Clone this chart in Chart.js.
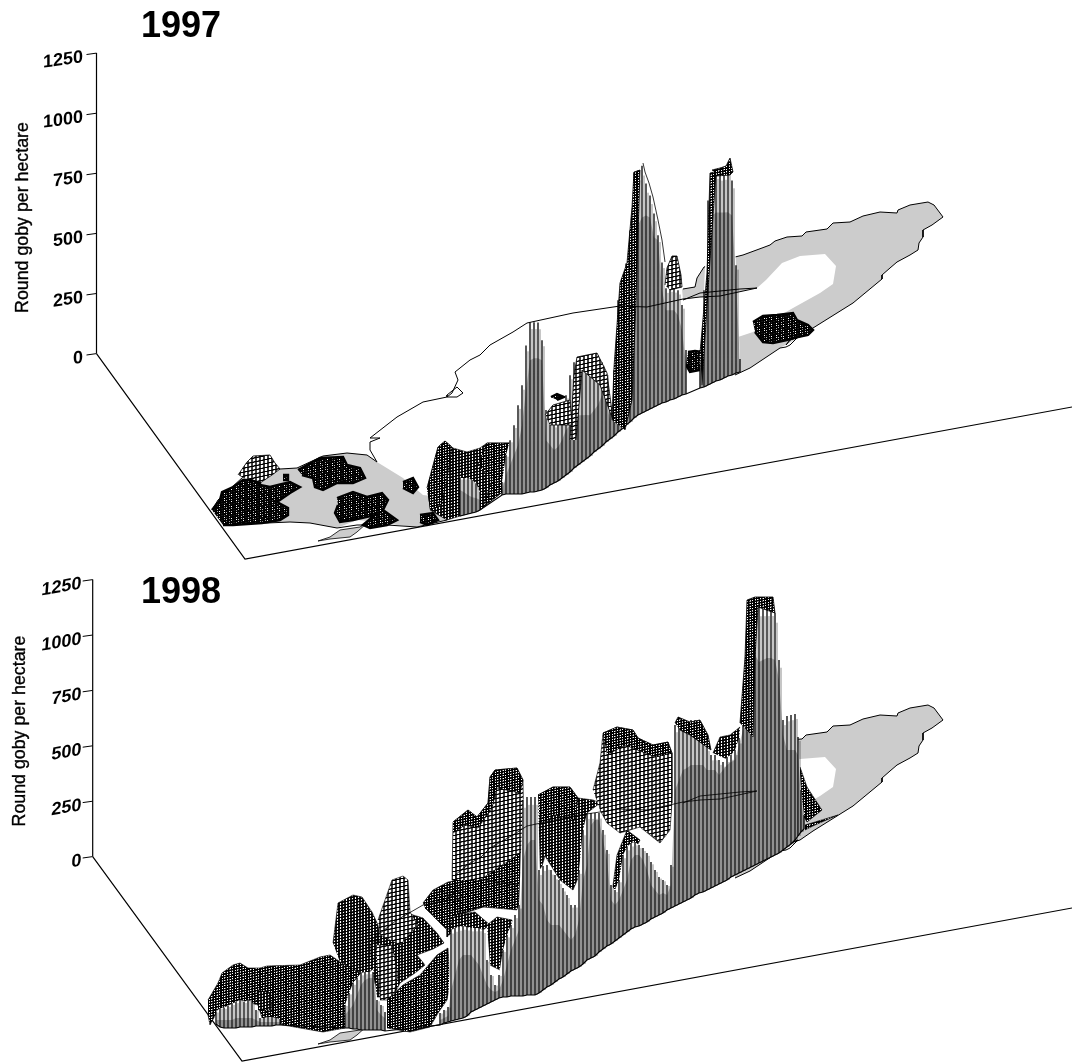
<!DOCTYPE html>
<html>
<head>
<meta charset="utf-8">
<style>
html, body { margin: 0; padding: 0; background: #fff; }
canvas { display: block; }
</style>
<script src="https://cdn.jsdelivr.net/npm/chart.js@4"></script>
</head>
<body>
<canvas id="gobyChart" width="1072" height="1062"></canvas>
<script>
// tick labels on the vertical axes
const tickValues = [0, 250, 500, 750, 1000, 1250];
const yearLabels = ['1997', '1998'];
const axisTitle = 'Round goby per hectare';

// floor coordinates are east,north pairs, the lake is the same for both years
const lakeEast = [683,55, 682,66, 695,68, 697,77, 704,88, 735,98, 743,100, 762,107, 770,110, 775,114, 787,118, 802,119, 806,123, 827,126, 833,132, 850,133, 863,139, 880,143, 897,142, 898,145, 910,150, 928,153, 934,150, 943,138, 932,130, 923,125, 923,118, 919,112, 918,105, 910,100, 897,93, 890,87, 882,80, 882,76, 853,52, 813,27, 800,18, 780,7, 750,-13, 735,-20, 735,17, 753,23, 760,28, 793,47, 820,62, 833,71, 836,89, 825,101, 800,99, 782,92, 766,75, 757,67, 720,59, 700,58];
const lakeWest = [212,-155, 218,-145, 243,-122, 280,-114, 297,-113, 323,-101, 347,-98, 367,-100, 377,-107, 403,-123, 423,-140, 440,-142, 447,-165, 417,-172, 397,-170, 387,-168, 357,-165, 337,-173, 310,-168, 290,-167, 267,-168, 223,-168];
const island = [318,-186, 330,-182, 340,-175, 360,-172, 367,-168, 357,-177, 350,-182, 330,-184, 318,-186];
const northShore = [377,-107, 370,-95, 370,-87, 380,-83, 370,-83, 397,-62, 423,-47, 447,-42, 457,-42, 463,-38, 457,-32, 447,-40, 447,-42, 452,-38, 458,-25, 455,-17, 470,-5, 480,0, 490,10, 513,23, 527,32, 573,42, 620,49, 647,48, 683,56, 700,58, 720,59, 757,67, 740,66, 700,62, 683,55];
const eastShore = [683,66, 695,68, 697,77, 704,88, 735,98, 743,100, 762,107, 770,110, 775,114, 787,118, 802,119, 806,123, 827,126, 833,132, 850,133, 863,139, 880,143, 897,142, 898,145, 910,150, 928,153, 934,150, 943,138, 932,130, 923,125, 923,118, 919,112, 918,105, 910,100, 897,93, 890,87, 882,80, 882,76, 853,52, 813,27, 800,18, 790,15, 786,10, 790,15, 798,18, 790,10, 786,8, 780,7, 750,-13, 735,-20];
const westShore = [212,-155, 218,-145, 243,-122, 280,-114, 297,-113, 323,-101, 347,-98, 367,-100, 377,-107];
const southShore = [223,-168, 267,-168, 290,-167, 310,-168, 337,-173, 357,-170, 387,-170, 417,-172, 447,-165];

// 1997 patches of low density surface
const blobs97 = [
  [212,-155, 220,-145, 222,-137, 233,-132, 243,-125, 250,-125, 260,-128, 260,-130, 270,-132, 290,-127, 300,-132, 290,-138, 277,-147, 288,-153, 288,-160, 280,-165, 262,-168, 233,-170, 223,-170],
  [298,-115, 320,-103, 343,-102, 347,-110, 360,-113, 365,-123, 353,-128, 337,-128, 323,-135, 315,-132, 313,-123, 302,-120],
  [337,-143, 353,-137, 367,-142, 382,-138, 388,-145, 383,-155, 397,-165, 387,-170, 370,-173, 363,-170, 375,-160, 353,-165, 340,-167, 335,-158, 338,-150],
  [403,-127, 413,-123, 418,-132, 413,-138, 403,-133],
  [420,-160, 433,-158, 438,-165, 427,-170, 420,-167],
  [283,-120, 288,-120, 288,-125, 283,-125],
  [753,33, 763,39, 777,40, 793,42, 797,35, 808,30, 813,25, 808,20, 793,17, 787,15, 773,12, 763,13, 755,23],
  [688,3, 695,4, 703,3, 700,-15, 690,-17, 686,-10],
  [551,-42, 557,-39, 564,-42, 557,-45]
];
const backHump97 = [238,-120, 247,-107, 253,-101, 270,-100, 275,-108, 280,-114, 272,-120, 260,-128, 250,-126];
const ridges97 = [
  [427,-133, 438,-92, 445,-86, 453,-93, 467,-97, 480,-93, 487,-88, 500,-88, 512,-88, 505,-135, 480,-155, 447,-165, 430,-155]
];
const ridgesDark97 = [
  [427,-133, 438,-92, 445,-86, 452,-92, 447,-125, 441,-150, 430,-155],
  [478,-110, 487,-88, 512,-88, 505,-135, 483,-152, 492,-125]
];
// parts of the surface that hide the needles
const frontDark97 = [
  [612,-65, 614,-12, 620,72, 627,92, 632,148, 634,183, 640,185, 636,55, 632,-45, 625,-75],
  [700,2, 707,82, 710,182, 716,183, 708,65, 702,-30],
  [712,185, 720,187, 726,189, 730,197, 733,183, 730,180, 716,179]
];
const frontOpen97 = [
  [665,70, 667,87, 672,99, 677,99, 681,80, 682,68, 670,65],
  [570,-85, 574,-20, 577,-2, 597,2, 607,-18, 613,-65, 600,-30, 582,-15, 576,-85],
  [545,-60, 553,-50, 570,-45, 572,-70, 550,-70]
];
const crest97 = [643,192, 645,183, 649,172, 653,158, 658,135, 662,115, 665,93];

const spikeEast97 = [460,464,468,472,476,480,502,506,510,514,518,522,526,530,534,538,542,546,550,554,558,562,566,570,574,578,582,586,590,594,598,602,606,610,614,618,622,626,630,634,638,642,646,650,654,658,662,666,670,674,678,682,686,700,704,708,712,716,720,724,728,732,736,740];
const spikeBase97 = [-161,-160,-159,-158,-157,-155,-140,-139,-139,-139,-139,-139,-138,-137,-137,-136,-135,-133,-130,-128,-126,-123,-120,-117,-113,-110,-107,-104,-101,-97,-94,-91,-87,-84,-81,-77,-74,-70,-67,-63,-60,-58,-56,-54,-52,-50,-48,-47,-45,-44,-42,-40,-39,-33,-32,-30,-28,-26,-25,-23,-21,-20,-18,-17];
const density97 = [158,154,149,137,120,75,54,162,224,286,369,452,614,706,706,701,623,324,270,241,253,282,332,402,440,444,432,411,403,402,390,348,290,141,274,548,627,672,797,1021,1017,1029,946,888,805,706,585,473,469,461,444,374,183,158,402,768,876,876,864,859,876,809,448,54];
const shade97 = [108,95,79,66,58,42,21,79,120,162,203,286,427,548,556,552,540,199,166,137,141,158,187,195,199,207,195,183,170,174,183,212,174,79,212,340,411,519,631,739,789,813,813,797,706,685,469,382,373,369,340,270,120,95,237,602,697,701,697,689,681,664,386,29];

// 1998 surface, listed from the far side to the near side
const darkMesh98 = [
  [208,-142, 218,-125, 222,-115, 233,-107, 240,-105, 248,-110, 260,-110, 267,-108, 300,-107, 320,-99, 330,-97, 345,-107, 380,-117, 345,-170, 323,-174, 283,-167, 262,-160, 258,-147, 240,-142, 218,-152, 210,-167, 208,-157],
  [423,-45, 433,-32, 448,-24, 520,-14, 520,-47, 490,-47, 483,-49, 445,-62, 425,-50],
  [453,-22, 487,-22, 518,-32, 518,-52, 483,-49, 450,-57, 433,-42],
  [480,1, 520,8, 520,-27, 487,-22],
  [425,-50, 447,-72, 447,-79, 457,-70, 460,-42, 440,-32]
];
const midMesh98 = [
  [258,-132, 270,-135, 272,-152, 258,-152],
  [333,-85, 338,-45, 353,-37, 362,-39, 372,-54, 378,-67, 385,-102, 365,-117, 340,-104],
  [370,-87, 390,-70, 410,-56, 423,-60, 437,-75, 444,-85, 433,-91, 417,-97, 425,-107, 415,-115, 400,-125, 393,-139, 377,-139]
];
const openMesh98 = [
  [378,-62, 392,-22, 403,-18, 408,-22, 410,-54, 418,-67, 400,-87, 380,-77],
  [376,-87, 392,-87, 398,-117, 393,-142, 380,-142]
];
const frontLow98 = [387,-142, 403,-127, 420,-117, 437,-97, 448,-90, 450,-127, 447,-142, 438,-155, 430,-169, 410,-174, 387,-170];
const midMeshRear98 = [
  [448,-72, 455,-57, 475,-54, 490,-67, 480,-74, 452,-74],
  [487,-67, 497,-59, 512,-62, 514,-77, 500,-112, 490,-107],
  [538,63, 553,71, 570,71, 578,60, 593,58, 600,55, 587,45, 587,1, 573,-32, 560,-22, 545,2, 540,-15],
  [713,105, 720,121, 730,123, 740,131, 752,115, 755,105, 735,95]
];
const openMeshRear98 = [
  [452,-22, 453,36, 468,48, 477,41, 488,55, 490,81, 495,88, 517,90, 523,78, 524,8, 510,-2, 480,-22],
  [593,68, 600,95, 603,125, 617,131, 633,128, 638,120, 653,113, 668,116, 672,105, 672,55, 670,28, 660,15, 640,31, 620,25, 607,35, 600,48]
];
const darkCaps98 = [
  [453,36, 468,48, 477,41, 488,55, 490,81, 495,88, 517,90, 523,78, 520,65, 497,70, 492,50, 478,30, 465,33, 453,25],
  [538,63, 553,71, 570,71, 578,60, 575,38, 555,43, 540,33],
  [603,125, 617,131, 633,128, 638,120, 653,113, 668,116, 672,105, 655,101, 625,113, 607,103],
  [612,-35, 617,3, 627,28, 640,18, 630,-2, 620,-27],
  [800,91, 807,71, 822,48, 807,36, 800,48],
  [805,33, 838,43, 815,33, 805,28]
];
const frontDark98 = [
  [740,135, 745,201, 747,258, 755,261, 773,261, 775,245, 758,251, 755,201, 753,121],
  [675,135, 678,141, 690,136, 700,138, 708,123, 711,108, 690,123, 680,128]
];

const spikeEast98 = [216,220,224,228,232,236,240,244,248,252,256,260,264,268,272,276,280,345,349,353,357,361,365,369,373,377,381,385,440,444,448,451,455,459,463,467,471,475,479,483,487,491,495,499,503,507,511,515,519,523,527,531,535,539,543,547,551,555,559,563,567,571,575,579,583,587,591,595,599,603,607,611,615,619,623,627,631,635,639,643,647,651,655,659,663,667,671,675,679,683,687,691,695,699,703,707,711,715,719,723,727,731,735,739,743,747,751,755,759,763,767,771,775,779,783,787,791,795,798,801,804];
const spikeBase98 = [-166,-169,-170,-170,-170,-170,-169,-169,-169,-169,-168,-168,-168,-168,-168,-167,-167,-170,-170,-171,-171,-172,-172,-172,-172,-172,-172,-173,-167,-165,-164,-163,-162,-161,-160,-158,-154,-152,-150,-148,-146,-144,-142,-140,-139,-139,-138,-138,-138,-138,-137,-137,-137,-135,-132,-129,-127,-124,-121,-119,-116,-113,-111,-109,-106,-102,-100,-98,-94,-91,-88,-86,-83,-80,-77,-74,-71,-69,-68,-66,-64,-61,-59,-57,-55,-52,-50,-48,-46,-44,-42,-40,-37,-35,-34,-32,-30,-28,-26,-24,-22,-19,-17,-15,-13,-11,-9,-7,-5,-3,-1,1,3,5,8,11,14,18,22,26,29];
const density98 = [54,86,90,99,108,117,122,113,122,113,72,36,36,41,41,32,27,104,158,208,230,257,262,262,262,135,113,86,54,59,68,411,415,415,415,402,379,370,361,343,199,122,68,104,212,280,320,366,411,885,894,894,894,555,560,551,519,483,447,402,357,298,289,438,605,663,654,645,627,537,433,266,230,262,361,384,388,384,366,343,311,257,212,171,149,113,194,817,844,812,803,803,790,772,731,654,600,591,560,542,555,551,564,609,772,1033,1205,1209,1160,1151,1142,1133,1092,871,587,591,582,569,447,190,63];
const shade98 = [18,32,36,36,36,45,41,41,41,41,27,18,18,18,18,14,14,59,81,108,153,203,226,235,235,90,68,59,23,23,27,140,203,266,284,275,257,226,194,140,86,54,36,36,77,144,208,253,298,614,677,700,700,420,384,302,271,257,244,212,176,140,153,212,379,429,600,614,596,492,388,199,162,171,203,235,311,325,320,289,235,153,122,90,90,68,104,523,560,596,596,600,587,578,573,542,533,523,492,505,519,519,519,578,636,808,934,948,907,907,907,898,880,781,519,438,424,406,366,144,41];

// vertical axes and the two floor edges of each year
const floor97East = [96.5, 245, 1072];
const floor97North = [1.4, -204, -52];
const floor98East = [92.7, 242, 1072];
const floor98North = [1.4, -203, -50];

// hectare units per floor unit, these follow the axis spacing of each year
const unit97 = 4.16;
const unit98 = 4.513;
// the floor zero sits a little under the axis zero
const floorLift = 1.4;

const tmpCtx = document.createElement('canvas').getContext('2d');

function meshPattern(cell, lineW, skew) {
    const tile = document.createElement('canvas');
    tile.width = 16;
    tile.height = 16;
    const g = tile.getContext('2d');
    g.fillStyle = '#fff';
    g.fillRect(0, 0, 16, 16);
    g.strokeStyle = '#000';
    g.lineWidth = lineW;
    g.strokeRect(0, 0, 16, 16);
    const p = tmpCtx.createPattern(tile, 'repeat');
    p.setTransform(new DOMMatrix().scale(cell / 16).skewY(skew));
    return p;
}

const patBlob = meshPattern(2.4, 11, -12);
const patDark = meshPattern(2.6, 9, -12);
const patMid = meshPattern(3, 7, -12);
const patOpen = meshPattern(4, 5, -12);

function toPoints(pairs, unit) {
    const pts = [];
    for (let i = 0; i < pairs.length; i += 2) {
        pts.push({ x: pairs[i], y: (pairs[i + 1] - floorLift) * unit });
    }
    return pts;
}

function lineSet(pts, axis, width) {
    return {
        type: 'scatter', showLine: true, yAxisID: axis, data: pts,
        borderColor: '#000', borderWidth: width, pointRadius: 0, tension: 0
    };
}

function polySet(pairs, axis, unit, fillWith, edge) {
    const ds = lineSet(toPoints(pairs, unit), axis, edge);
    ds.polyFill = fillWith;
    return ds;
}

// white backing and grey lower part behind the needles, one polygon per unbroken run
function spikeSets(east, base, dens, shade, axis, unit) {
    const sets = [];
    const level = i => (base[i] - floorLift) * unit;
    let start = 0;
    for (let i = 1; i <= east.length; i++) {
        if (i === east.length || east[i] - east[i - 1] > 8) {
            const top = [], low = [], bottom = [];
            for (let j = start; j < i; j++) {
                top.push({ x: east[j], y: level(j) + dens[j] });
                low.push({ x: east[j], y: level(j) + shade[j] });
                bottom.unshift({ x: east[j], y: level(j) });
            }
            const white = lineSet(top.concat(bottom), axis, 0);
            white.polyFill = '#fff';
            const grey = lineSet(low.concat(bottom), axis, 0);
            grey.polyFill = '#bdbdbd';
            sets.push(white, grey);
            start = i;
        }
    }
    // second row of the grid showing between the front needles
    const backRow = [];
    east.forEach((e, i) => {
        if (i === east.length - 1 || east[i + 1] - e > 8) return;
        backRow.push({ x: e + 2, y: level(i) });
        backRow.push({ x: e + 2, y: level(i) + dens[i] * 0.96 });
        backRow.push({ x: e + 2, y: null });
    });
    const back = lineSet(backRow, axis, 1);
    back.borderColor = 'rgba(0,0,0,0.45)';
    sets.push(back);

    const needles = [];
    east.forEach((e, i) => {
        needles.push({ x: e, y: level(i) });
        needles.push({ x: e, y: level(i) + dens[i] });
        needles.push({ x: e, y: null });
    });
    sets.push(lineSet(needles, axis, 1.3));
    sets.push(lineSet(east.map((e, i) => ({ x: e, y: level(i) })), axis, 1.2));
    return sets;
}

function axisSets(axis, unit, floorEast, floorNorth) {
    const sets = [];
    sets.push(lineSet([{ x: floorEast[0], y: 1250 }, { x: floorEast[0], y: 0 }], axis, 1.2));
    sets.push(lineSet(floorEast.map((e, i) => ({ x: e, y: (floorNorth[i] - floorLift) * unit })), axis, 1.2));
    tickValues.forEach(v => {
        sets.push(lineSet([{ x: floorEast[0], y: v }, { x: floorEast[0] - 10, y: v - 1.4 * unit }], axis, 1));
    });
    return sets;
}

function yearSets(unit, axis, isFirst) {
    const sets = [];
    sets.push(polySet(lakeEast, axis, unit, '#cccccc', 0));
    if (isFirst) sets.push(polySet(lakeWest, axis, unit, '#cccccc', 0));
    sets.push(polySet(island, axis, unit, '#cccccc', 0.8));
    sets.push(lineSet(toPoints(eastShore, unit), axis, 1));
    if (isFirst) {
        sets.push(lineSet(toPoints(westShore, unit), axis, 1));
        sets.push(lineSet(toPoints(southShore, unit), axis, 1));
    }
    return sets;
}

let datasets = [];
datasets = datasets.concat(axisSets('y97', unit97, floor97East, floor97North));
datasets = datasets.concat(axisSets('y98', unit98, floor98East, floor98North));

datasets = datasets.concat(yearSets(unit97, 'y97', true));
ridges97.forEach(p => datasets.push(polySet(p, 'y97', unit97, patMid, 0.6)));
ridgesDark97.forEach(p => datasets.push(polySet(p, 'y97', unit97, patDark, 0.6)));
datasets.push(polySet(backHump97, 'y97', unit97, patOpen, 0.8));
blobs97.forEach(p => datasets.push(polySet(p, 'y97', unit97, patBlob, 2.4)));
datasets = datasets.concat(spikeSets(spikeEast97, spikeBase97, density97, shade97, 'y97', unit97));
frontDark97.forEach(p => datasets.push(polySet(p, 'y97', unit97, patDark, 0.8)));
frontOpen97.forEach(p => datasets.push(polySet(p, 'y97', unit97, patOpen, 0.8)));
datasets.push(lineSet(toPoints(crest97, unit97), 'y97', 0.8));
datasets.push(lineSet(toPoints(northShore, unit97), 'y97', 1));

datasets = datasets.concat(yearSets(unit98, 'y98', false));
darkMesh98.forEach(p => datasets.push(polySet(p, 'y98', unit98, patDark, 0.6)));
midMesh98.forEach(p => datasets.push(polySet(p, 'y98', unit98, patMid, 0.6)));
openMesh98.forEach(p => datasets.push(polySet(p, 'y98', unit98, patOpen, 0.6)));
datasets.push(polySet(frontLow98, 'y98', unit98, patDark, 0.6));
midMeshRear98.forEach(p => datasets.push(polySet(p, 'y98', unit98, patMid, 0.6)));
openMeshRear98.forEach(p => datasets.push(polySet(p, 'y98', unit98, patOpen, 0.6)));
darkCaps98.forEach(p => datasets.push(polySet(p, 'y98', unit98, patDark, 0.6)));
datasets = datasets.concat(spikeSets(spikeEast98, spikeBase98, density98, shade98, 'y98', unit98));
frontDark98.forEach(p => datasets.push(polySet(p, 'y98', unit98, patDark, 0.8)));
datasets.push(lineSet(toPoints(northShore, unit98), 'y98', 0.8));

// chart.js paints the first dataset last
datasets.reverse();

const polygonFill = {
    id: 'polygonFill',
    beforeDatasetDraw(chart, args) {
        const ds = chart.data.datasets[args.index];
        if (!ds.polyFill) return;
        const ctx = chart.ctx;
        const pts = args.meta.data;
        ctx.save();
        ctx.beginPath();
        pts.forEach((p, i) => (i ? ctx.lineTo(p.x, p.y) : ctx.moveTo(p.x, p.y)));
        ctx.closePath();
        ctx.fillStyle = ds.polyFill;
        ctx.fill();
        ctx.restore();
    }
};

const axisText = {
    id: 'axisText',
    afterDraw(chart) {
        const ctx = chart.ctx;
        const panels = [
            { scale: chart.scales.y97, right: 83, titleX: 141, titleY: 37, nameX: 28.3, nameY: 217.5, year: yearLabels[0], shear: [1, -0.14, 0, 1] },
            { scale: chart.scales.y98, right: 81, titleX: 141, titleY: 603, nameX: 25.3, nameY: 731, year: yearLabels[1], shear: [1, -0.17, -0.08, 1] }
        ];
        ctx.save();
        ctx.fillStyle = '#000';
        ctx.strokeStyle = '#000';
        panels.forEach(p => {
            ctx.font = 'bold 36px "Liberation Sans"';
            ctx.textAlign = 'left';
            ctx.textBaseline = 'alphabetic';
            ctx.fillText(p.year, p.titleX, p.titleY);

            ctx.font = 'bold 18px "Liberation Sans"';
            ctx.textAlign = 'right';
            tickValues.forEach(v => {
                ctx.save();
                ctx.translate(p.right, p.scale.getPixelForValue(v) + 9);
                ctx.transform(p.shear[0], p.shear[1], p.shear[2], p.shear[3], 0, 0);
                ctx.fillText(String(v), 0, 0);
                ctx.restore();
            });

            ctx.save();
            ctx.font = '17.8px "Liberation Sans"';
            ctx.textAlign = 'center';
            ctx.lineWidth = 0.35;
            ctx.translate(p.nameX, p.nameY);
            ctx.rotate(-Math.PI / 2);
            ctx.fillText(axisTitle, 0, 0);
            ctx.strokeText(axisTitle, 0, 0);
            ctx.restore();
        });
        ctx.restore();
    }
};

new Chart(document.getElementById('gobyChart').getContext('2d'), {
    type: 'scatter',
    data: { datasets: datasets },
    plugins: [polygonFill, axisText],
    options: {
        responsive: false,
        animation: false,
        layout: { padding: 0 },
        plugins: { legend: { display: false }, tooltip: { enabled: false }, title: { display: false } },
        scales: {
            x: { type: 'linear', min: 0, max: 1072, display: false },
            y97: { type: 'linear', min: (353.6 - 1062) * unit97, max: 353.6 * unit97, display: false },
            y98: { type: 'linear', min: (856.6 - 1062) * unit98, max: 856.6 * unit98, display: false }
        }
    }
});
</script>
</body>
</html>
